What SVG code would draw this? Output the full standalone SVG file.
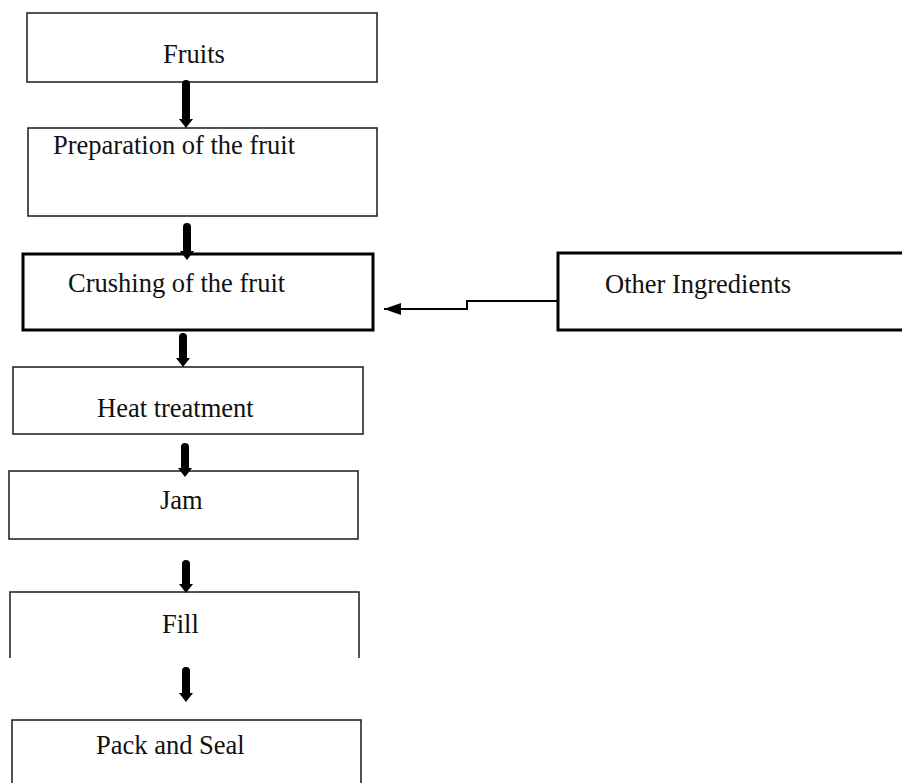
<svg xmlns="http://www.w3.org/2000/svg" width="902" height="783" viewBox="0 0 902 783">
  <defs>
    <style>
      .box { fill: #ffffff; stroke: #1a1a1a; stroke-width: 1.5; }
      .thick { fill: #ffffff; stroke: #000000; stroke-width: 3; }
      .lbl { font-family: "Liberation Serif", "Times New Roman", serif; font-size: 26.5px; fill: #111111; }
      .down { fill: #000000; }
      .conn { fill: none; stroke: #000000; stroke-width: 2; }
    </style>
    <marker id="ah" markerWidth="18" markerHeight="12" refX="17" refY="6" orient="auto" markerUnits="userSpaceOnUse">
      <path d="M0,0 L17,6 L0,12 Z" fill="#000000"/>
    </marker>
  </defs>
  <rect width="902" height="783" fill="#ffffff"/>

  <g id="node-fruits">
    <rect class="box" x="27" y="13" width="350" height="69"/>
    <text class="lbl" x="163" y="63">Fruits</text>
  </g>
  <g id="node-preparation">
    <rect class="box" x="28" y="128" width="349" height="88"/>
    <text class="lbl" x="53" y="154">Preparation of the fruit</text>
  </g>
  <g id="node-crushing">
    <rect class="thick" x="23" y="254" width="350" height="76"/>
    <text class="lbl" x="68" y="292">Crushing of the fruit</text>
  </g>
  <g id="node-other">
    <rect class="thick" x="558" y="253" width="360" height="77"/>
    <text class="lbl" x="605" y="293">Other Ingredients</text>
  </g>
  <g id="node-heat">
    <rect class="box" x="13" y="367" width="350" height="67"/>
    <text class="lbl" x="97" y="417">Heat treatment</text>
  </g>
  <g id="node-jam">
    <rect class="box" x="9" y="471" width="349" height="68"/>
    <text class="lbl" x="160" y="509">Jam</text>
  </g>
  <g id="node-fill">
    <path class="box" style="fill:none" d="M10,658 L10,592 L359,592 L359,658"/>
    <text class="lbl" x="162" y="633">Fill</text>
  </g>
  <g id="node-pack">
    <path class="box" style="fill:none" d="M12,790 L12,720 L361,720 L361,790"/>
    <text class="lbl" x="96" y="754">Pack and Seal</text>
  </g>

  <g id="connectors">
    <path class="down" d="M182,84 Q182,80 186,80 Q190,80 190,84 L190,119 L193,119 L186,128 L179,119 L182,119 Z"/>
    <path class="down" d="M183,227 Q183,223 187,223 Q191,223 191,227 L191,251 L194,251 L187,260 L180,251 L183,251 Z"/>
    <path class="down" d="M179,337 Q179,333 183,333 Q187,333 187,337 L187,358 L190,358 L183,367 L176,358 L179,358 Z"/>
    <path class="down" d="M181,447 Q181,443 185,443 Q189,443 189,447 L189,468 L192,468 L185,477 L178,468 L181,468 Z"/>
    <path class="down" d="M182,564 Q182,560 186,560 Q190,560 190,564 L190,584 L193,584 L186,593 L179,584 L182,584 Z"/>
    <path class="down" d="M182,671 Q182,667 186,667 Q190,667 190,671 L190,693 L193,693 L186,702 L179,693 L182,693 Z"/>
    <path class="conn" d="M557,301 L467,301 L467,309 L384,309" marker-end="url(#ah)"/>
  </g>
</svg>
